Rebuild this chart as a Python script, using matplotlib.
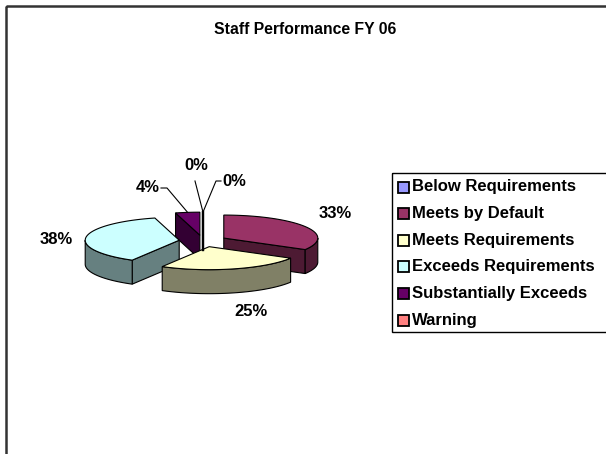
import numpy as np
import matplotlib
matplotlib.use("Agg")
import matplotlib.pyplot as plt
from matplotlib.patches import Polygon, Rectangle
from matplotlib.colors import to_rgb

# ---------------- data ----------------
categories = ["Below Requirements", "Meets by Default", "Meets Requirements",
              "Exceeds Requirements", "Substantially Exceeds", "Warning"]
counts = [0, 8, 6, 9, 1, 0]
pct_labels = ["0%", "33%", "25%", "38%", "4%", "0%"]
top_colors = ["#9999FF", "#993366", "#FFFFCC", "#CCFFFF", "#660066", "#FF8080"]
title = "Staff Performance FY 06"

# ---------------- layout ----------------
W, H = 606, 454
FONT = ["Liberation Sans", "DejaVu Sans"]
cx, cy = 203, 241          # pie centre (pixels)
rx, ry = 94, 23            # ellipse radii of top face
depth = 24                 # thickness
expl = 24                  # explosion distance
k = ry / rx

# label anchor positions (pixels) and leader-line waypoints
label_pos = {0: (196, 165), 1: (335, 214), 2: (251, 311), 3: (56, 240),
             4: (148, 187), 5: (234, 181)}
leaders = {4: [(161, 188), (167, 188)], 0: [(195, 181)], 5: [(221, 181), (216, 181)]}

fig = plt.figure(figsize=(W / 100, H / 100), dpi=100)
ax = fig.add_axes([0, 0, 1, 1])
ax.set_xlim(0, W)
ax.set_ylim(H, 0)
ax.axis("off")

# chart frame (only left/top visible)
ax.add_patch(Rectangle((6, 6), 800, 700, fill=False, ec="#333333", lw=1.8))

ax.text(W / 2 + 2, 30, title, ha="center", va="center", fontsize=11.3,
        fontweight="bold", family=FONT)

total = float(sum(counts))
fracs = np.array(counts) / total
bounds = np.concatenate([[0.0], np.cumsum(fracs)]) * 360.0


def darker(c, f=0.5):
    return tuple(v * f for v in to_rgb(c))


def rim(a, th):
    t = np.radians(th)
    return np.array([a[0] + rx * np.sin(t), a[1] - ry * np.cos(t)])


def arc(a, t1, t2, n=60):
    ts = np.linspace(t1, t2, n)
    return np.array([rim(a, t) for t in ts])


slices = []
for i, f in enumerate(fracs):
    t1, t2 = bounds[i], bounds[i + 1]
    m = np.radians((t1 + t2) / 2)
    apex = np.array([cx + expl * np.sin(m), cy - expl * k * np.cos(m)])
    slices.append((i, t1, t2, apex))

targets = {}
lw = 0.8
for i, t1, t2, apex in sorted(slices, key=lambda s: s[3][1]):
    col = top_colors[i]
    side = darker(col)
    d = np.array([0, depth])
    if t2 - t1 <= 1e-9:
        p = rim(apex, t1)
        ax.plot([p[0], apex[0]], [p[1], apex[1] + depth * 0.6], color="black", lw=1.6)
        targets[i] = p
        continue
    # cut faces
    if np.sin(np.radians(t1)) < -1e-6:
        p = rim(apex, t1)
        ax.add_patch(Polygon([apex, p, p + d, apex + d], closed=True, fc=side, ec="black", lw=lw))
    if np.sin(np.radians(t2)) > 1e-6:
        p = rim(apex, t2)
        ax.add_patch(Polygon([apex, p, p + d, apex + d], closed=True, fc=side, ec="black", lw=lw))
    # outer wall (front half)
    a1, a2 = max(t1, 90), min(t2, 270)
    if a2 > a1:
        top = arc(apex, a1, a2)
        ax.add_patch(Polygon(np.vstack([top, (top + d)[::-1]]), closed=True,
                             fc=side, ec="black", lw=lw))
    # top face
    pts = np.vstack([[apex], arc(apex, t1, t2)])
    ax.add_patch(Polygon(pts, closed=True, fc=col, ec="black", lw=lw))
    targets[i] = rim(apex, (t1 + t2) / 2)

# labels and leader lines
for i, lab in enumerate(pct_labels):
    x, y = label_pos[i]
    ax.text(x, y, lab, ha="center", va="center", fontsize=12, fontweight="bold", family=FONT)
    if i in leaders:
        pts = leaders[i] + [tuple(targets[i])]
        xs, ys = zip(*pts)
        ax.plot(xs, ys, color="black", lw=0.8)

# legend
lx, ly, lh = 392, 173, 159
ax.add_patch(Rectangle((lx, ly), 400, lh, fill=False, ec="black", lw=1.0))
row0, step = 187, 26.6
for j, (cat, col) in enumerate(zip(categories, top_colors)):
    yy = row0 + j * step
    ax.add_patch(Rectangle((397.5, yy - 5.5), 11, 11, fc=col, ec="black", lw=1.3))
    ax.text(412, yy, cat, ha="left", va="center", fontsize=12, fontweight="bold", family=FONT)

fig.savefig("out.png", dpi=100)
